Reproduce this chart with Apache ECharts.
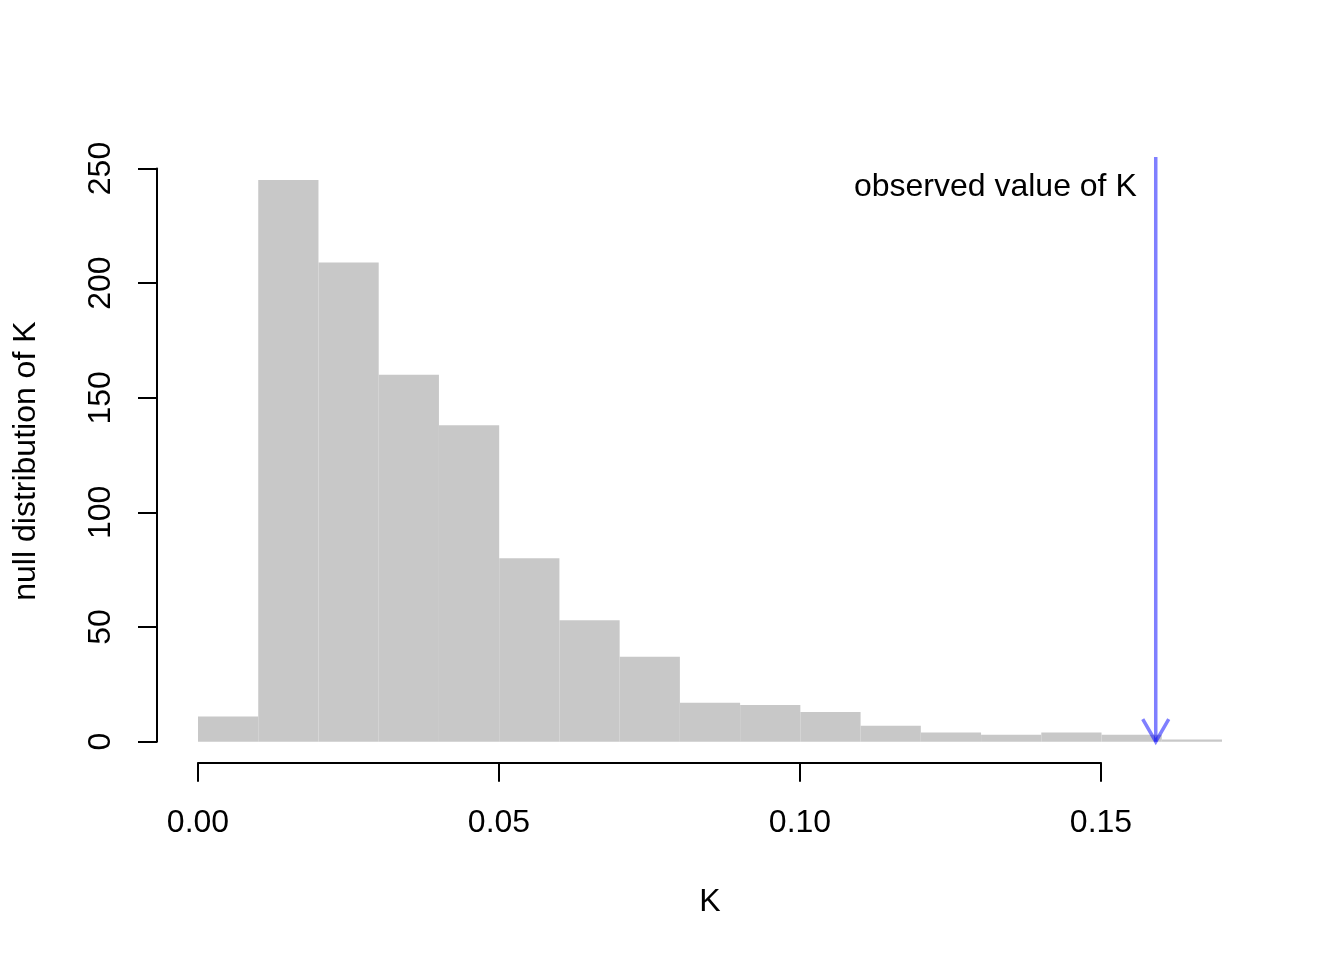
<!DOCTYPE html>
<html>
<head>
<meta charset="utf-8">
<script src="https://cdn.jsdelivr.net/npm/echarts@6/dist/echarts.min.js"></script>
<style>
html, body { margin: 0; padding: 0; background: #fff; }
#chart { width: 1344px; height: 960px; }
</style>
</head>
<body>
<div id="chart"></div>
<script>
// histogram of the null distribution of K
const binLeft = [0.00, 0.01, 0.02, 0.03, 0.04, 0.05, 0.06, 0.07, 0.08, 0.09, 0.10, 0.11, 0.12, 0.13, 0.14, 0.15, 0.16]
const binRight = [0.01, 0.02, 0.03, 0.04, 0.05, 0.06, 0.07, 0.08, 0.09, 0.10, 0.11, 0.12, 0.13, 0.14, 0.15, 0.16, 0.17]
const counts = [11, 245, 209, 160, 138, 80, 53, 37, 17, 16, 13, 7, 4, 3, 4, 3, 1]

// observed value, drawn as an arrow
const observedK = 0.159
const arrowTop = 255
const labelY = 242
const labelText = 'observed value of K'

const FONT = "'Liberation Sans', Arial, Helvetica, sans-serif"
const INK = '#000'

const el = document.getElementById('chart')
const chart = echarts.init(el, null, { renderer: 'canvas' })

const histData = binLeft.map((x0, i) => [x0, binRight[i], counts[i]])

const option = {
	animation: false,
	backgroundColor: '#fff',
	textStyle: { fontFamily: FONT },
	grid: [
		{ left: 198, right: 122, top: 168.5, bottom: 218.3 },
		// only for the drawn x axis, which stops at the last tick
		{ left: 198, right: 243, top: 168.5, bottom: 218.3 },
	],
	xAxis: [
		{
			type: 'value', gridIndex: 0, min: 0, max: 0.17,
			axisLine: { show: false, onZero: false }, axisTick: { show: false },
			axisLabel: { show: false }, splitLine: { show: false },
			offset: 21,
			name: 'K', nameLocation: 'middle', nameGap: 123,
			nameTextStyle: { fontSize: 32, color: INK, fontFamily: FONT },
		},
		{
			type: 'value', gridIndex: 1, min: 0, max: 0.15, interval: 0.05,
			offset: 21,
			axisLine: { onZero: false, lineStyle: { color: INK, width: 2 } },
			axisTick: { length: 19, lineStyle: { color: INK, width: 2 } },
			axisLabel: {
				fontSize: 32, color: INK, fontFamily: FONT, margin: 44,
				formatter: v => v.toFixed(2),
			},
			splitLine: { show: false },
		},
	],
	yAxis: [
		{
			type: 'value', gridIndex: 0, min: 0, max: 250, interval: 50,
			offset: 41,
			axisLine: { show: true, onZero: false, lineStyle: { color: INK, width: 2 } },
			axisTick: { show: true, length: 19, lineStyle: { color: INK, width: 2 } },
			axisLabel: { fontSize: 32, color: INK, fontFamily: FONT, rotate: 90, margin: 40 },
			splitLine: { show: false },
			name: 'null distribution of K', nameLocation: 'middle', nameGap: 115,
			nameTextStyle: { fontSize: 32, color: INK, fontFamily: FONT, padding: [0, 12, 0, 0] },
		},
		{ type: 'value', gridIndex: 1, min: 0, max: 250, show: false },
	],
	series: [
		{
			type: 'custom',
			xAxisIndex: 0, yAxisIndex: 0,
			data: histData,
			encode: { x: [0, 1], y: 2 },
			renderItem(params, api) {
				const p0 = api.coord([api.value(0), api.value(2)])
				const p1 = api.coord([api.value(1), 0])
				return {
					type: 'rect',
					shape: { x: p0[0], y: p0[1], width: p1[0] - p0[0], height: p1[1] - p0[1] },
					style: { fill: '#c8c8c8' },
				}
			},
		},
		{
			type: 'custom',
			xAxisIndex: 0, yAxisIndex: 0,
			clip: false,
			z: 5,
			data: [[observedK, arrowTop, 0, labelY]],
			encode: { x: 0, y: [1, 2] },
			renderItem(params, api) {
				const top = api.coord([api.value(0), api.value(1)])
				const tip = api.coord([api.value(0), api.value(2)])
				const lab = api.coord([api.value(0), api.value(3)])
				const head = 26, ang = Math.PI / 6
				const dx = head * Math.sin(ang), dy = head * Math.cos(ang)
				const stroke = { stroke: 'rgba(0,0,255,0.5)', lineWidth: 3.5, fill: null }
				return {
					type: 'group',
					children: [
						{ type: 'line', shape: { x1: top[0], y1: top[1], x2: tip[0], y2: tip[1] }, style: stroke },
						{
							type: 'polyline',
							shape: { points: [[tip[0] - dx, tip[1] - dy], [tip[0], tip[1]], [tip[0] + dx, tip[1] - dy]] },
							style: Object.assign({ lineJoin: 'miter' }, stroke),
						},
						{
							type: 'text',
							x: lab[0] - 19, y: lab[1],
							style: {
								text: labelText, fill: INK, font: '32px ' + FONT,
								align: 'right', verticalAlign: 'middle',
							},
						},
					],
				}
			},
		},
	],
}

chart.setOption(option)
</script>
</body>
</html>
